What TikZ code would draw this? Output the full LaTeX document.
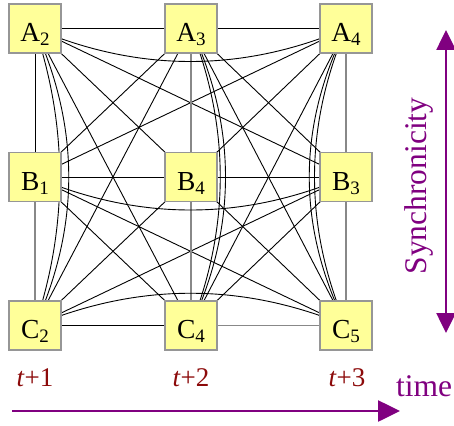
\documentclass[tikz,border=0pt]{standalone}
\usepackage{fontspec}
\setmainfont{Liberation Serif}
\usetikzlibrary{arrows.meta,calc}
\definecolor{boxfill}{RGB}{255,255,153}
\definecolor{boxline}{RGB}{150,150,150}
\definecolor{edgegray}{RGB}{136,136,136}
\definecolor{tred}{RGB}{140,10,10}
\definecolor{purp}{RGB}{128,0,128}
\pgfdeclarelayer{bg}
\pgfsetlayers{bg,main}
\newcommand{\lsub}[1]{\raisebox{-4pt}{\fontsize{19}{19}\selectfont #1}}
\newcommand{\bendedge}[5][edge]{%
  \draw[#1] (#2.center) .. controls ($(#2.center)!0.3333!(#3.center)+(#4,#5)$) and ($(#2.center)!0.6667!(#3.center)+(#4,#5)$) .. (#3.center);}
\begin{document}
\begin{tikzpicture}[x=1pt,y=-1pt,
  vbox/.style={draw=boxline,fill=boxfill,line width=1.8pt,minimum width=52pt,minimum height=49pt,inner sep=0pt,text height=28pt,text depth=2pt,font=\fontsize{27.5}{27.5}\selectfont},
  edge/.style={black,line width=0.9pt},
  gedge/.style={edgegray,line width=1.7pt},
  tlab/.style={tred,font=\fontsize{27}{27}\selectfont,anchor=base,inner sep=0pt},
  plab/.style={purp,font=\fontsize{31.5}{31.5}\selectfont,anchor=base,inner sep=0pt},
  parrow/.style={purp,line width=2.6pt}]
\useasboundingbox (0,0) rectangle (454,425);
% nodes
\node[vbox] (A2) at (35,28.5) {A\lsub{2}};
\node[vbox] (A3) at (191,28.5) {A\lsub{3}};
\node[vbox] (A4) at (346,28.5) {A\lsub{4}};
\node[vbox] (B1) at (35,177) {B\lsub{1}};
\node[vbox] (B4) at (191,177) {B\lsub{4}};
\node[vbox] (B3) at (346,177) {B\lsub{3}};
\node[vbox] (C2) at (35,325.5) {C\lsub{2}};
\node[vbox] (C4) at (191,325.5) {C\lsub{4}};
\node[vbox] (C5) at (346,325.5) {C\lsub{5}};
\begin{pgfonlayer}{bg}
% straight edges
\foreach \a/\b in {A2/A3,A3/A4,B1/B4,B4/B3,C2/C4,A2/B1,
  A2/B4,B1/A3,A3/B3,B4/A4,B1/C4,B4/C2,B4/C5,B3/C4,
  A2/C4,A3/C2,A3/C5,A4/C4,A2/B3,A4/B1,B1/C5,B3/C2}
  \draw[edge] (\a.center) -- (\b.center);
\foreach \a/\b in {C4/C5,B1/C2,A3/B4,B4/C4,A4/B3,B3/C5}
  \draw[gedge] (\a.center) -- (\b.center);
% curved edges
\bendedge{A2}{A4}{0}{44}
\bendedge{B1}{B3}{0}{44}
\bendedge{C2}{C5}{0}{-43}
\bendedge{A2}{C2}{45}{0}
\bendedge{A2}{C2}{33}{0}
\bendedge{A3}{C4}{39}{0}
\bendedge{A3}{C4}{46}{0}
\bendedge{A4}{C5}{-49}{0}
\bendedge{A4}{C5}{-42}{0}
\end{pgfonlayer}
% time labels
\node[tlab] (t1) at (35,386.7) {\textit{t}+1};
\node[tlab] (t2) at (191,386.7) {\textit{t}+2};
\node[tlab] (t3) at (347,386.7) {\textit{t}+3};
\node[plab] (time) at (424,396) {time};
\node[plab,rotate=90] (sync) at (426,186) {Synchronicity};
% arrows
\coordinate (hs) at (12,411);
\coordinate (he) at (400,411);
\draw[parrow,-{Triangle[length=22pt,width=21pt]}] (hs) -- (he);
\coordinate (vs) at (446,30);
\coordinate (ve) at (446,333);
\draw[parrow,{Triangle[length=20pt,width=19pt]}-{Triangle[length=20pt,width=19pt]}] (vs) -- (ve);
\end{tikzpicture}
\end{document}
